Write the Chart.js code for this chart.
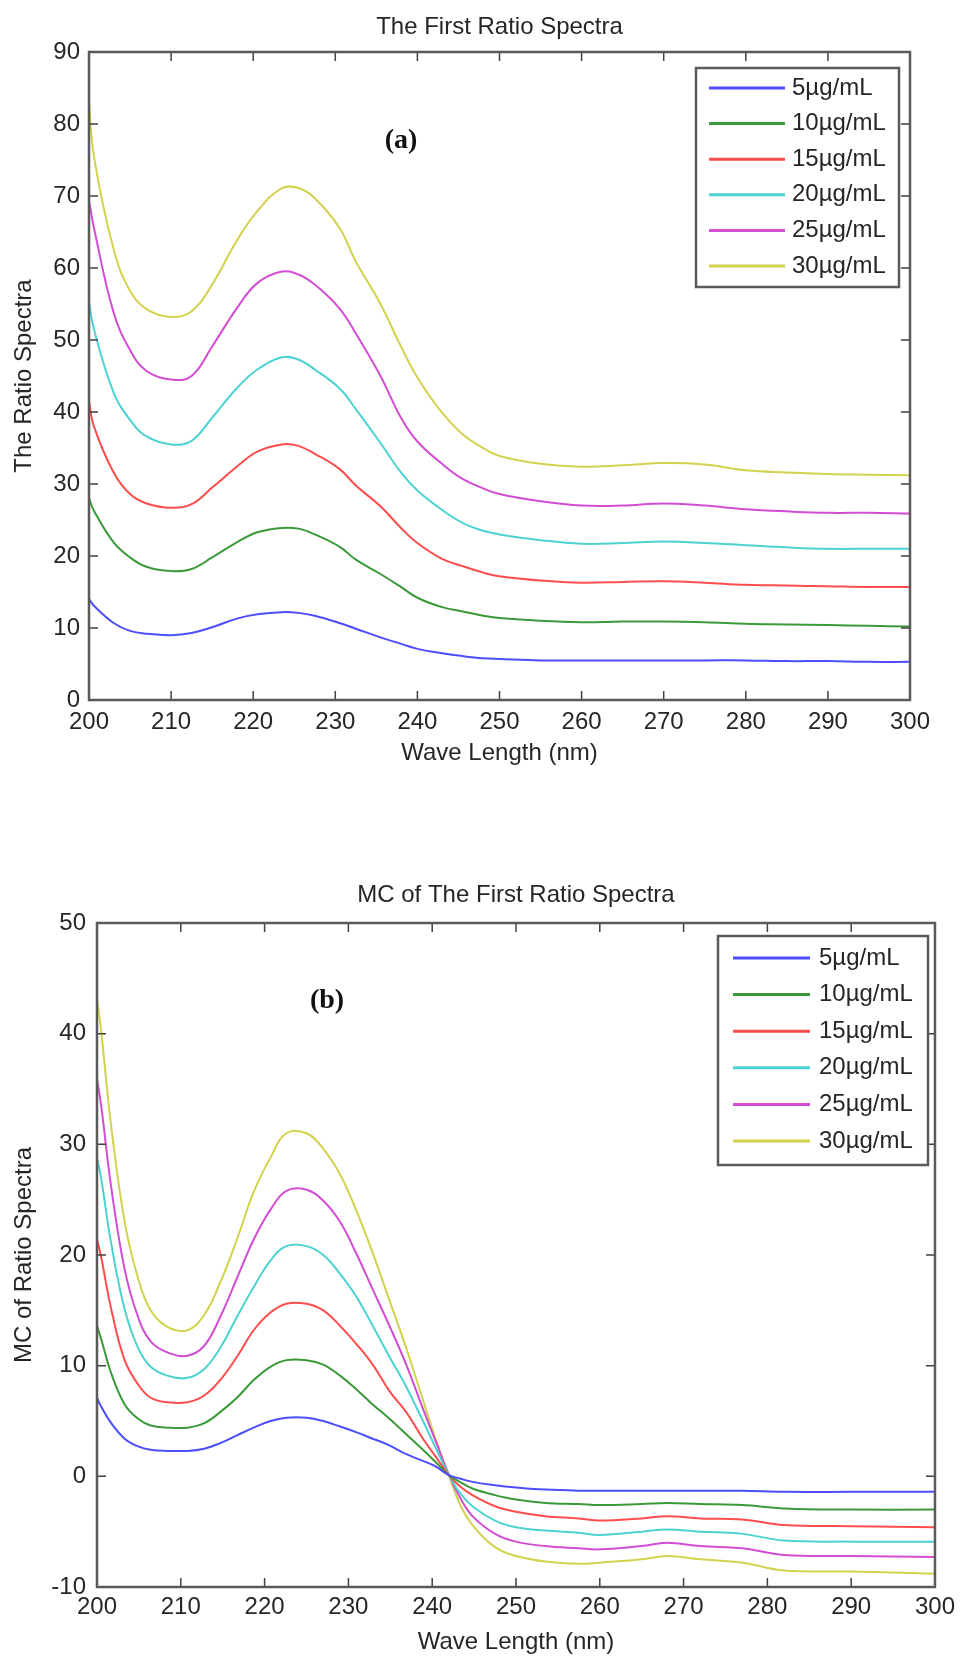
<!DOCTYPE html>
<html>
<head>
<meta charset="utf-8">
<title>The First Ratio Spectra</title>
<script src="https://cdn.jsdelivr.net/npm/chart.js@4.4.1/dist/chart.umd.min.js"></script>
<style>
    body { margin: 0; background: #ffffff; }
    .panel { position: absolute; left: 0; width: 961px; }
    #panelA { top: 0; height: 780px; }
    #panelB { top: 860px; height: 797px; }
</style>
</head>
<body>
<div class="panel" id="panelA"><canvas id="ratioChart" width="961" height="780"></canvas></div>
<div class="panel" id="panelB"><canvas id="mcChart" width="961" height="797"></canvas></div>
<script>
//////////////////////////////////
// Data
//////////////////////////////////
const seriesLabels = ["5µg/mL", "10µg/mL", "15µg/mL", "20µg/mL", "25µg/mL", "30µg/mL"];
const xTicks = [200, 210, 220, 230, 240, 250, 260, 270, 280, 290, 300];

// (a) The First Ratio Spectra
const wlA = [200, 200.6, 203, 205, 207, 210, 212.5, 215, 218, 220.5, 223.5, 225.5, 227.5, 230.5, 232.5, 235.5,
             238, 240, 243, 245.5, 248, 250, 255, 260, 265, 270, 275, 280, 285, 290, 295, 300];
const ratio5  = [14.0, 13.1, 10.7, 9.6, 9.2, 9.0, 9.3, 10.1, 11.3, 11.9, 12.2, 12.1, 11.7, 10.7, 9.9, 8.7,
                 7.8, 7.1, 6.5, 6.1, 5.8, 5.7, 5.5, 5.5, 5.5, 5.5, 5.5, 5.5, 5.4, 5.4, 5.3, 5.3];
const ratio10 = [28.0, 26.3, 21.9, 19.8, 18.5, 17.9, 18.2, 19.8, 21.9, 23.3, 23.9, 23.8, 23.0, 21.3, 19.5, 17.5,
                 15.7, 14.2, 12.9, 12.3, 11.7, 11.4, 11.0, 10.8, 10.9, 10.9, 10.8, 10.6, 10.5, 10.4, 10.3, 10.2];
const ratio15 = [41.5, 38.0, 31.6, 28.6, 27.3, 26.7, 27.2, 29.5, 32.4, 34.5, 35.5, 35.3, 34.2, 32.1, 29.8, 26.9,
                 23.9, 21.8, 19.6, 18.6, 17.7, 17.2, 16.6, 16.3, 16.4, 16.5, 16.3, 16.0, 15.9, 15.8, 15.7, 15.7];
const ratio20 = [55.3, 51.5, 42.7, 38.9, 36.6, 35.5, 36.0, 39.2, 43.3, 45.9, 47.6, 47.3, 45.9, 43.3, 40.4, 35.7,
                 31.6, 29.1, 26.4, 24.6, 23.5, 23.0, 22.2, 21.7, 21.8, 22.0, 21.8, 21.5, 21.2, 21.0, 21.0, 21.0];
const ratio25 = [69.4, 65.6, 53.8, 48.6, 45.7, 44.5, 45.0, 49.1, 54.4, 57.9, 59.5, 59.1, 57.7, 54.4, 50.9, 45.0,
                 39.2, 35.9, 32.8, 30.7, 29.4, 28.6, 27.6, 27.0, 27.0, 27.3, 27.0, 26.5, 26.2, 26.0, 26.0, 25.9];
const ratio30 = [83.2, 75.5, 62.6, 56.8, 54.3, 53.2, 54.0, 57.7, 63.8, 67.9, 71.1, 71.1, 69.7, 65.6, 60.9, 55.0,
                 49.1, 44.8, 39.9, 36.9, 35.0, 33.9, 32.8, 32.4, 32.6, 32.9, 32.7, 31.9, 31.6, 31.4, 31.3, 31.2];

// (b) MC of The First Ratio Spectra
const wlB = [200, 200.5, 201.7, 203.3, 204.9, 206.4, 208.4, 210.8, 212.8, 214.7, 216.7, 218.7, 220.7, 222.6,
             225, 227, 229, 230.9, 232.9, 234.9, 236.9, 238.9, 240.4, 242, 243.3, 244.8, 247.5, 250, 253.5,
             257.5, 260, 265, 268, 272, 277, 282, 290, 300];
const mc5  = [7.1, 6.3, 4.8, 3.4, 2.7, 2.4, 2.3, 2.3, 2.5, 3.0, 3.7, 4.4, 5.0, 5.3, 5.3, 5.0, 4.5, 4.0, 3.4,
              2.8, 2.0, 1.4, 0.9, 0.1, -0.2, -0.5, -0.8, -1.0, -1.2, -1.3, -1.3, -1.3, -1.3, -1.3, -1.3, -1.4, -1.4, -1.4];
const mc10 = [13.6, 12.4, 9.3, 6.5, 5.2, 4.6, 4.4, 4.4, 4.8, 5.8, 7.1, 8.7, 9.9, 10.5, 10.5, 10.1, 9.1, 7.9, 6.5,
              5.2, 3.8, 2.4, 1.3, 0.1, -0.5, -1.1, -1.7, -2.1, -2.4, -2.5, -2.6, -2.5, -2.4, -2.5, -2.6, -2.9, -3.0, -3.0];
const mc15 = [21.4, 19.8, 15.1, 10.5, 8.3, 7.1, 6.7, 6.7, 7.3, 8.7, 10.8, 13.2, 14.8, 15.6, 15.6, 15.0, 13.6, 12.0, 10.1,
              7.7, 5.8, 3.4, 1.8, 0.1, -0.9, -1.7, -2.7, -3.2, -3.6, -3.8, -4.0, -3.8, -3.6, -3.8, -3.9, -4.4, -4.5, -4.6];
const mc20 = [28.8, 26.9, 21.0, 15.1, 11.6, 9.9, 9.1, 8.9, 9.7, 11.6, 14.4, 17.1, 19.5, 20.8, 20.8, 20.0, 18.3, 16.3, 13.6,
              10.8, 8.1, 5.0, 2.6, 0.1, -1.5, -2.7, -4.0, -4.6, -4.9, -5.1, -5.3, -5.0, -4.8, -5.0, -5.2, -5.8, -5.9, -5.9];
const mc25 = [35.9, 33.5, 26.1, 18.7, 14.4, 12.2, 11.2, 10.9, 11.8, 14.4, 17.9, 21.4, 24.1, 25.8, 25.9, 24.9, 23.0, 20.2, 16.9,
              13.6, 10.1, 6.1, 3.2, 0.1, -1.9, -3.6, -5.2, -5.9, -6.3, -6.5, -6.6, -6.3, -6.0, -6.3, -6.5, -7.1, -7.2, -7.3];
const mc30 = [43.1, 40.2, 31.6, 23.0, 17.9, 15.0, 13.5, 13.2, 14.6, 17.5, 21.4, 25.7, 28.8, 31.0, 31.0, 29.6, 27.3, 24.1, 20.2,
              15.9, 11.6, 6.9, 3.4, 0.1, -2.5, -4.4, -6.4, -7.2, -7.7, -7.9, -7.8, -7.5, -7.2, -7.5, -7.8, -8.5, -8.6, -8.8];

const lineColors = ["#4d4dff", "#3a9a3a", "#ff4d4d", "#4dd2d2", "#d24dd2", "#d2d24d"];

const FONT = "'Liberation Sans', Arial, sans-serif";
const TEXT_COLOR = "#262626";

document.addEventListener("DOMContentLoaded", function() {
    drawRatioChart();
    drawMcChart();
});

//////////////////////////////////
// MATLAB-like frame, ticks, legend and labels
//////////////////////////////////
const matlabFrame = {
    id: "matlabFrame",
    afterDatasetsDraw(chart, args, opts) {
        const ctx = chart.ctx;
        const area = chart.chartArea;
        const xs = chart.scales.x;
        const ys = chart.scales.y;
        ctx.save();

        // inward tick marks on all four sides
        ctx.strokeStyle = "#404040";
        ctx.lineWidth = 1.5;
        ctx.beginPath();
        xs.ticks.forEach(t => {
            const px = xs.getPixelForValue(t.value);
            ctx.moveTo(px, area.bottom); ctx.lineTo(px, area.bottom - 9);
            ctx.moveTo(px, area.top); ctx.lineTo(px, area.top + 9);
        });
        ys.ticks.forEach(t => {
            const py = ys.getPixelForValue(t.value);
            ctx.moveTo(area.left, py); ctx.lineTo(area.left + 9, py);
            ctx.moveTo(area.right, py); ctx.lineTo(area.right - 9, py);
        });
        ctx.stroke();

        // axes box
        ctx.strokeStyle = "#5a5a5a";
        ctx.lineWidth = 2.5;
        ctx.strokeRect(area.left, area.top, area.right - area.left, area.bottom - area.top);

        // legend box
        const lg = opts.legend;
        ctx.fillStyle = "#ffffff";
        ctx.fillRect(lg.x, lg.y, lg.w, lg.h);
        ctx.strokeStyle = "#5a5a5a";
        ctx.lineWidth = 2.5;
        ctx.strokeRect(lg.x, lg.y, lg.w, lg.h);
        ctx.font = "24px " + FONT;
        ctx.textBaseline = "middle";
        ctx.textAlign = "left";
        chart.data.datasets.forEach((ds, i) => {
            const ry = lg.rowY + i * lg.rowStep;
            ctx.strokeStyle = ds.borderColor;
            ctx.lineWidth = 3;
            ctx.beginPath();
            ctx.moveTo(lg.lineX0, ry);
            ctx.lineTo(lg.lineX1, ry);
            ctx.stroke();
            ctx.fillStyle = TEXT_COLOR;
            ctx.fillText(ds.label, lg.textX, ry);
        });

        // title centred over the axes
        ctx.fillStyle = TEXT_COLOR;
        ctx.textAlign = "center";
        ctx.font = "24px " + FONT;
        ctx.fillText(opts.title, (area.left + area.right) / 2, opts.titleY);

        // panel tag, e.g. (a)
        ctx.fillStyle = "#111111";
        ctx.font = "bold 28px 'Liberation Serif', 'Times New Roman', serif";
        ctx.fillText(opts.tag, opts.tagX, opts.tagY);
        ctx.restore();
    }
};

function buildDatasets(wl, seriesList) {
    return seriesList.map((values, i) => ({
        label: seriesLabels[i],
        data: wl.map((w, j) => ({ x: w, y: values[j] })),
        borderColor: lineColors[i],
        borderWidth: 2,
        pointRadius: 0,
        fill: false,
        tension: 0.4
    }));
}

function buildOptions(cfg) {
    return {
        responsive: false,
        animation: false,
        layout: { padding: { top: cfg.padTop, right: cfg.padRight, bottom: 0, left: 0 } },
        plugins: {
            legend: { display: false },
            tooltip: { enabled: false },
            matlabFrame: cfg.frame
        },
        scales: {
            x: {
                type: "linear",
                min: 200,
                max: 300,
                afterBuildTicks: scale => { scale.ticks = xTicks.map(v => ({ value: v })); },
                afterFit: scale => { scale.height = cfg.xHeight; },
                grid: { display: false, drawTicks: false },
                border: { display: false },
                ticks: { color: TEXT_COLOR, font: { family: FONT, size: 24 }, padding: cfg.xTickPad, maxRotation: 0 },
                title: { display: true, text: "Wave Length (nm)", color: TEXT_COLOR,
                         font: { family: FONT, size: 24 }, padding: { top: 0, bottom: cfg.xTitlePad } }
            },
            y: {
                min: cfg.yMin,
                max: cfg.yMax,
                afterFit: scale => { scale.width = cfg.yWidth; },
                grid: { display: false, drawTicks: false },
                border: { display: false },
                ticks: { stepSize: 10, color: TEXT_COLOR, font: { family: FONT, size: 24 }, padding: cfg.yTickPad },
                title: { display: true, text: cfg.yTitle, color: TEXT_COLOR,
                         font: { family: FONT, size: 24 }, padding: { top: 10, bottom: 0 } }
            }
        }
    };
}

//////////////////////////////////
// (a) The First Ratio Spectra
//////////////////////////////////
function drawRatioChart() {
    const ctx = document.getElementById("ratioChart").getContext("2d");
    new Chart(ctx, {
        type: "line",
        data: { datasets: buildDatasets(wlA, [ratio5, ratio10, ratio15, ratio20, ratio25, ratio30]) },
        options: buildOptions({
            padTop: 52, padRight: 51, xHeight: 80, yWidth: 89,
            xTickPad: 8, xTitlePad: 12, yTickPad: 9,
            yMin: 0, yMax: 90, yTitle: "The Ratio Spectra",
            frame: {
                title: "The First Ratio Spectra", titleY: 27,
                tag: "(a)", tagX: 401, tagY: 141,
                legend: { x: 696, y: 68, w: 203, h: 219, rowY: 88, rowStep: 35.6,
                          lineX0: 709, lineX1: 785, textX: 792 }
            }
        }),
        plugins: [matlabFrame]
    });
}

//////////////////////////////////
// (b) MC of The First Ratio Spectra
//////////////////////////////////
function drawMcChart() {
    const ctx = document.getElementById("mcChart").getContext("2d");
    new Chart(ctx, {
        type: "line",
        data: { datasets: buildDatasets(wlB, [mc5, mc10, mc15, mc20, mc25, mc30]) },
        options: buildOptions({
            padTop: 63, padRight: 17, xHeight: 70, yWidth: 97,
            xTickPad: 6, xTitlePad: 0, yTickPad: 11,
            yMin: -10, yMax: 50, yTitle: "MC of Ratio Spectra",
            frame: {
                title: "MC of The First Ratio Spectra", titleY: 35,
                tag: "(b)", tagX: 327, tagY: 141,
                legend: { x: 718, y: 76, w: 210, h: 229, rowY: 98, rowStep: 36.6,
                          lineX0: 733, lineX1: 810, textX: 819 }
            }
        }),
        plugins: [matlabFrame]
    });
}
</script>
</body>
</html>
